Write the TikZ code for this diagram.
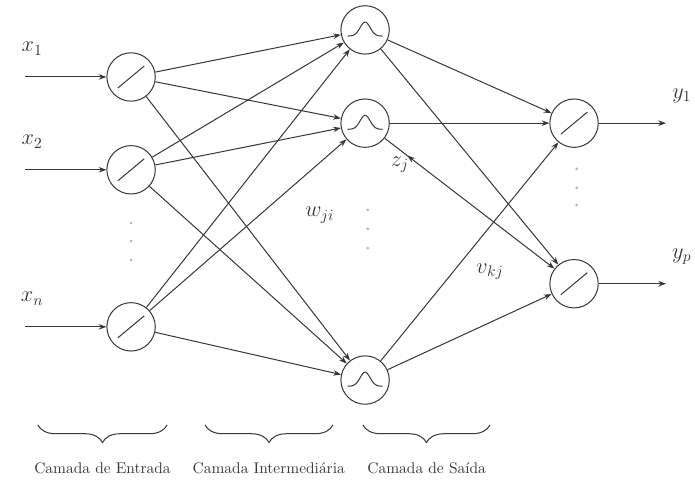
\documentclass[tikz,border=0pt]{standalone}
\usepackage{amsmath}
\usetikzlibrary{positioning, arrows.meta, decorations.pathreplacing, decorations.markings}
\definecolor{netLine}{RGB}{55, 55, 55}
\definecolor{dotGray}{RGB}{185, 185, 185}

\begin{document}
\begin{tikzpicture}[>={Stealth[length=5pt, width=3.6pt]}, font=\Large, line width=0.65pt,
    neuron/.style={draw=netLine, circle, minimum size=1.1cm, inner sep=0pt},
    syn/.style={->, netLine},
    layerbrace/.style={draw=netLine, decorate, decoration={brace, mirror, amplitude=0.4cm}}]
  \useasboundingbox (0,0) rectangle (15.8,-10.95);

  % Input layer
  \foreach \i/\y in {1/1.75, 2/3.86, n/7.43} {
    \coordinate (s\i) at (0.57,-\y);
    \node[neuron] (x\i) at (2.98,-\y) {};
    \node[text=netLine] (lx\i) at (0.73,-\y+0.64) {$x_{\i}$};
    \draw[syn] (s\i) -- (x\i);
  }

  % Hidden layer
  \node[neuron] (h1) at (8.30,-0.68) {};
  \node[neuron] (h2) at (8.30,-2.80) {};
  \node[neuron] (h3) at (8.30,-8.64) {};

  % Output layer
  \foreach \k/\y in {1/2.80, p/6.45} {
    \node[neuron] (y\k) at (13.05,-\y) {};
    \coordinate (t\k) at (15.14,-\y);
    \node[text=netLine] (ly\k) at (15.5,-\y+0.62) {$y_{\k}$};
    \draw[syn] (y\k) -- (t\k);
  }

  % Activation symbols
  \foreach \n in {x1, x2, xn, y1, yp}
    \draw[netLine] (\n) ++(-0.3,-0.25) -- ++(0.6,0.5);
  \foreach \n in {h1, h2, h3}
    \draw[netLine, shift={(\n)}] plot[domain=-0.4:0.4, samples=40]
      (\x, {-0.14+0.32*exp(-(\x/0.16)^2)});

  % Weights w_ji
  \foreach \i in {1, 2, n}
    \foreach \j in {1, 2, 3}
      \draw[syn] (x\i) -- (h\j);

  % Weights v_kj
  \draw[syn] (h1) -- (y1);
  \draw[syn] (h1) -- (yp);
  \draw[syn] (h2) -- (y1);
  \draw[syn, postaction={decorate},
        decoration={markings, mark=at position 0.17 with {\arrow{<}}}] (h2) -- (yp);
  \draw[syn] (h3) -- (y1);
  \draw[syn] (h3) -- (yp);

  % Labels
  \node[text=netLine] (wji) at (7.27,-4.89) {$w_{ji}$};
  \node[text=netLine] (zj) at (9.09,-3.75) {$z_j$};
  \node[text=netLine] (vkj) at (11.14,-6.18) {$v_{kj}$};

  % Dots
  \foreach \x/\y in {2.98/5.07, 2.98/5.48, 2.98/5.91,
                     8.36/4.77, 8.36/5.20, 8.36/5.64,
                     13.11/3.84, 13.11/4.27, 13.11/4.66}
    \fill[dotGray] (\x,-\y) circle (1pt);

  % Layer braces
  \draw[layerbrace] (0.86,-9.66) -- (3.80,-9.66);
  \draw[layerbrace] (4.66,-9.66) -- (7.57,-9.66);
  \draw[layerbrace] (8.25,-9.66) -- (11.14,-9.66);
  \node[font=\normalsize, text=netLine] (inLayer) at (2.33,-10.64) {Camada de Entrada};
  \node[font=\normalsize, text=netLine] (hidLayer) at (6.11,-10.64) {Camada Intermediária};
  \node[font=\normalsize, text=netLine] (outLayer) at (9.70,-10.64) {Camada de Saída};
\end{tikzpicture}
\end{document}
